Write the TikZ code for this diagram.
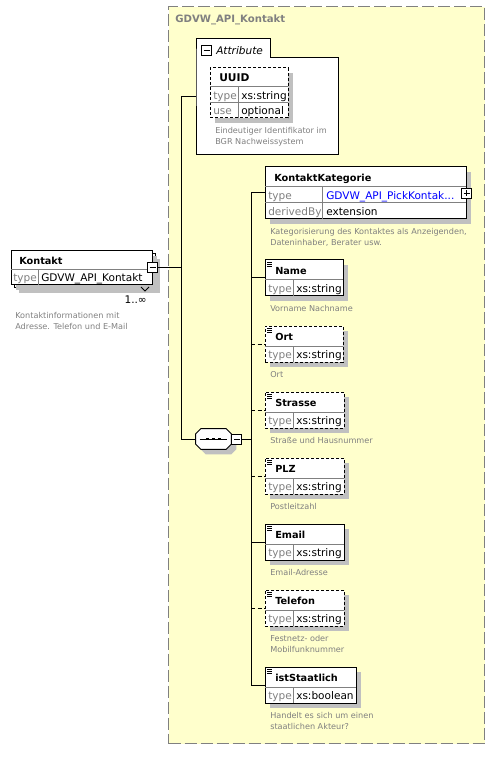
\documentclass[tikz,border=0pt]{standalone}
\usepackage{fontspec}
\setmainfont{DejaVu Sans}
\usetikzlibrary{positioning}
\usetikzlibrary{calc}
\usetikzlibrary{fit}
\usetikzlibrary{shadows}
\definecolor{xsyellow}{RGB}{255,255,204}
\definecolor{xsgray}{RGB}{128,128,128}
\definecolor{xsshadow}{RGB}{192,192,192}
\definecolor{xsblue}{RGB}{0,0,255}
% one child element: name, x, y, width, border, title, type, description
\newcommand{\xselem}[8]{%
  \node[elem, #5, minimum width=#4*0.75pt, anchor=north west] (#1) at (#2,#3) {};
  \draw[sepline] (#2,#3+20) -- (#2+#4,#3+20) (#2+28,#3+20) -- (#2+28,#3+36);
  \draw[icon] (#2+2,#3+2) -- ++(5,0) (#2+2,#3+4) -- ++(5,0) (#2+2,#3+6) -- ++(5,0);
  \node[hdr] (#1-name) at (#2+10,#3+10.5) {#6};
  \node[lbl] (#1-lbl) at (#2+3,#3+28.5) {type};
  \node[val] (#1-val) at (#2+31,#3+28.5) {#7};
  \node[desc] (#1-desc) at (#2+5,#3+45.5) {#8};
}

\begin{document}
\begin{tikzpicture}[
    x=0.75pt, y=-0.75pt,
    conn/.style={line width=0.75pt},
    optconn/.style={dash pattern=on 3pt off 2pt},
    shade/.style={drop shadow={shadow xshift=3.75pt, shadow yshift=-3.75pt, fill=xsshadow, opacity=1}},
    elem/.style={draw, fill=white, line width=0.75pt, minimum height=36*0.75pt, inner sep=0, outer sep=0, shade},
    optional/.style={dash pattern=on 2.25pt off 1.5pt},
    sepline/.style={draw=xsgray, line width=0.75pt},
    icon/.style={line width=0.6pt},
    hdr/.style={anchor=west, inner sep=0, font=\bfseries\fontsize{7.3}{9}\selectfont, text height=5.4pt, text depth=0pt},
    lbl/.style={anchor=west, inner sep=0, text=xsgray, font=\fontsize{7.9}{9.5}\selectfont, text height=5.8pt, text depth=0pt},
    val/.style={lbl, text=black},
    desc/.style={anchor=north west, inner sep=0, text=xsgray, align=left, font=\fontsize{6.1}{8}\selectfont},
    minusbox/.style={draw, fill=white, line width=0.75pt, minimum size=10*0.75pt, inner sep=0,
        path picture={\draw[line width=0.75pt] ([xshift=1.5pt]path picture bounding box.west) -- ([xshift=-1.5pt]path picture bounding box.east);}},
    plusbox/.style={draw, fill=white, line width=0.75pt, minimum size=10*0.75pt, inner sep=0,
        path picture={\draw[line width=0.75pt] ([xshift=1.5pt]path picture bounding box.west) -- ([xshift=-1.5pt]path picture bounding box.east)
            ([yshift=-1.5pt]path picture bounding box.north) -- ([yshift=1.5pt]path picture bounding box.south);}}
]
    \useasboundingbox (0,0) rectangle (501,762);

    % complex type container
    \node[draw=xsgray, fill=xsyellow, line width=0.9pt, dash pattern=on 9pt off 3pt, anchor=north west,
        minimum width=316*0.75pt, minimum height=737*0.75pt, inner sep=0] (cont) at (168,6) {};
    \node[anchor=west, inner sep=0, text=xsgray, font=\bfseries\fontsize{7.6}{9}\selectfont] (cont-title) at (175,20) {GDVW\_API\_Kontakt};

    % root element
    \node[elem, minimum width=141*0.75pt, minimum height=34*0.75pt, anchor=north west] (kontakt-back) at (14,254) {};
    \node[elem, drop shadow={opacity=0}, minimum width=141*0.75pt, minimum height=34*0.75pt, anchor=north west] (kontakt) at (11,251) {};
    \draw[sepline] (11,270) -- (152,270) (38,270) -- (38,285);
    \node[hdr] (kontakt-name) at (19,261) {Kontakt};
    \node[lbl] (kontakt-lbl) at (13,278) {type};
    \node[val] (kontakt-val) at (41,278) {GDVW\_API\_Kontakt};
    \node[minusbox] (kontakt-minus) at (152.5,268) {};
    \draw[line width=0.6pt] (141,287) -- (145,291) -- (149,287);
    \node[anchor=east, inner sep=0, font=\fontsize{7.9}{9.5}\selectfont] (kontakt-occ) at (147,300) {1..∞};
    \node[desc] (kontakt-desc) at (15,312.5) {Kontaktinformationen mit\\Adresse. Telefon und E-Mail};

    % attribute group
    \node[fill=white, anchor=north west, minimum width=74*0.75pt, minimum height=19*0.75pt, inner sep=0] (attrtab) at (196,39) {};
    \node[fill=white, anchor=north west, minimum width=142*0.75pt, minimum height=96*0.75pt, inner sep=0] (attrbox) at (196,58) {};
    \draw[conn] (attrtab.south west) |- (attrtab.north east) |- (attrbox.north east) |- (attrbox.south west) -- cycle;
    \node[fit=(attrtab)(attrbox), inner sep=0] (attrs) {};
    \node[minusbox] (attr-minus) at (206.5,50.5) {};
    \node[anchor=west, inner sep=0, font=\itshape\fontsize{7.9}{9.5}\selectfont] (attr-title) at (216,50.5) {Attribute};

    \node[elem, optional, minimum width=78*0.75pt, minimum height=50*0.75pt, anchor=north west] (uuid) at (210,68) {};
    \draw[sepline] (210,87) -- (288,87) (210,103) -- (288,103) (238,87) -- (238,118);
    \node[hdr, font=\bfseries\fontsize{8}{9}\selectfont, text height=5.9pt] (uuid-name) at (219,77.5) {UUID};
    \node[lbl] (uuid-lbl) at (213,95.5) {type};
    \node[val] (uuid-val) at (241,95.5) {xs:string};
    \node[lbl] (uuid-use) at (213,111) {use};
    \node[val] (uuid-opt) at (241,111) {optional};
    \node[desc] (uuid-desc) at (215,127.5) {Eindeutiger Identifikator im\\BGR Nachweissystem};

    % sequence
    \node[minimum width=35*0.75pt, minimum height=20*0.75pt, inner sep=0] (seq) at (213.5,439) {};
    \draw[conn, fill=white, shade] ($(seq.north west)+(5,0)$) -- ($(seq.north east)+(-5,0)$) -- ($(seq.north east)+(0,5)$)
        -- ($(seq.south east)+(0,-5)$) -- ($(seq.south east)+(-5,0)$) -- ($(seq.south west)+(5,0)$)
        -- ($(seq.south west)+(0,-5)$) -- ($(seq.north west)+(0,5)$) -- cycle;
    \draw[conn] ($(seq.west)+(4,0)$) -- ($(seq.east)+(-4,0)$);
    \foreach \dx in {-6,0,6}
        \fill ($(seq.center)+(\dx-1.2,-1.2)$) rectangle ++(2.4,2.4);
    \node[minusbox, anchor=west] (seq-minus) at (seq.east) {};

    % children
    \node[elem, minimum width=201*0.75pt, minimum height=52*0.75pt, anchor=north west] (kat) at (265,167) {};
    \draw[sepline] (265,187) -- (466,187) (265,203) -- (466,203) (322,187) -- (322,219);
    \node[hdr] (kat-name) at (274,177.5) {KontaktKategorie};
    \node[lbl] (kat-lbl) at (268,195.5) {type};
    \node[val, text=xsblue] (kat-val) at (326,195.5) {GDVW\_API\_PickKontak...};
    \node[lbl] (kat-der) at (268,211.5) {derivedBy};
    \node[val] (kat-ext) at (326,211.5) {extension};
    \node[plusbox] (kat-plus) at (466.5,193.5) {};
    \node[desc] (kat-desc) at (270,228.5) {Kategorisierung des Kontaktes als Anzeigenden,\\Dateninhaber, Berater usw.};

    \xselem{name}{265}{260}{78}{solid}{Name}{xs:string}{Vorname Nachname}
    \xselem{ort}{265}{326}{78}{optional}{Ort}{xs:string}{Ort}
    \xselem{strasse}{265}{392}{79}{optional}{Strasse}{xs:string}{Straße und Hausnummer}
    \xselem{plz}{265}{458}{79}{optional}{PLZ}{xs:string}{Postleitzahl}
    \xselem{email}{265}{524}{79}{solid}{Email}{xs:string}{Email-Adresse}
    \xselem{telefon}{265}{590}{79}{optional}{Telefon}{xs:string}{Festnetz- oder\\Mobilfunknummer}
    \xselem{staat}{265}{667}{91}{solid}{istStaatlich}{xs:boolean}{Handelt es sich um einen\\staatlichen Akteur?}

    % connectors
    \coordinate (kbus) at (181,268);
    \coordinate (seqbus) at (251,439);
    \draw[conn] (kontakt-minus.east) -- (kbus);
    \draw[conn] (kbus |- attrs.west) -- (kbus |- seq.west);
    \draw[conn] (kbus |- attrs.west) -- (attrs.west);
    \draw[conn] (kbus |- seq.west) -- (seq.west);
    \draw[conn] (seq-minus.east) -- (seqbus);
    \draw[conn] (seqbus |- kat.west) -- (seqbus |- staat.west);
    \draw[conn] (seqbus |- kat.west) -- (kat.west);
    \foreach \e in {name,email,staat}
        \draw[conn] (seqbus |- \e.west) -- (\e.west);
    \foreach \e in {ort,strasse,plz,telefon}
        \draw[conn, optconn] (seqbus |- \e.west) -- (\e.west);
\end{tikzpicture}
\end{document}
